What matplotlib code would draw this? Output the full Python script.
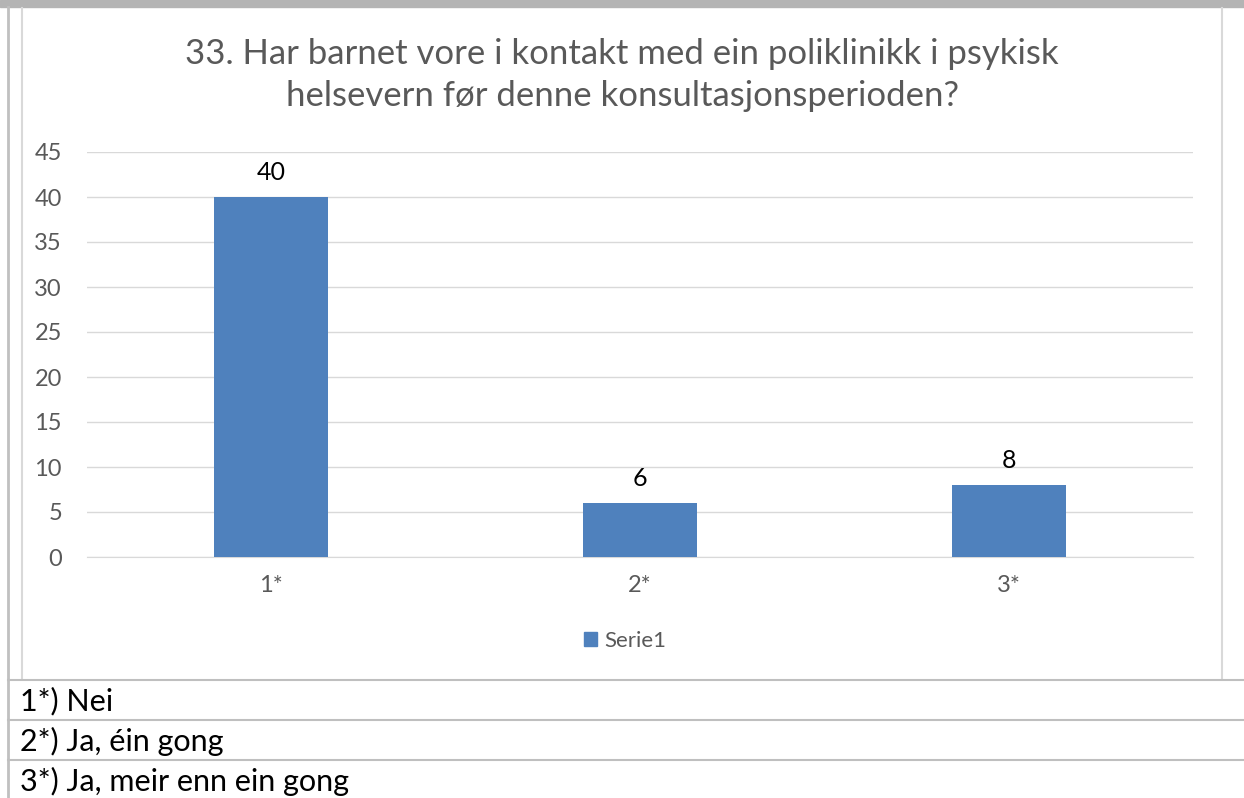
import matplotlib.pyplot as plt
from matplotlib.lines import Line2D
from matplotlib.patches import Rectangle

categories = ["1*", "2*", "3*"]
values = [40, 6, 8]
series_name = "Serie1"
title = "33. Har barnet vore i kontakt med ein poliklinikk i psykisk\nhelsevern før denne konsultasjonsperioden?"
notes = ["1*) Nei", "2*) Ja, éin gong", "3*) Ja, meir enn ein gong"]

W, H = 1244, 798
plt.rcParams['font.family'] = ['Lato', 'DejaVu Sans']

fig = plt.figure(figsize=(W / 100, H / 100), dpi=100)

def px(x, y):
    return x / W, 1 - y / H

# top gray band and frame lines
fig.patches.append(Rectangle((0, 1 - 7 / H), 1, 7 / H, transform=fig.transFigure,
                             color='#b4b4b4', zorder=0))
fig.lines.append(Line2D([8 / W, 8 / W], [0, 1 - 7 / H], transform=fig.transFigure,
                        color='#c0c0c0', lw=2))
for x in (22, 1222):
    fig.lines.append(Line2D([x / W, x / W], [1 - 679 / H, 1 - 8 / H],
                            transform=fig.transFigure, color='#d9d9d9', lw=1.5))
for y in (680, 720, 760):
    fig.lines.append(Line2D([8 / W, 1], [1 - y / H, 1 - y / H],
                            transform=fig.transFigure, color='#bfbfbf', lw=1.5))

for i, note in enumerate(notes):
    fig.text(20 / W, 1 - (701 + 40 * i) / H, note, fontsize=22, color='black',
             va='center', ha='left')

ax = fig.add_axes([87 / W, 1 - 557 / H, (1193 - 87) / W, (557 - 152) / H])
x = range(len(categories))
bars = ax.bar(x, values, width=0.31, color='#4f81bd', label=series_name, zorder=3)
ax.set_xlim(-0.5, len(categories) - 0.5)
ax.set_ylim(0, 45)
ax.set_yticks(range(0, 46, 5))
ax.set_xticks(list(x))
ax.set_xticklabels(categories)
ax.grid(axis='y', color='#d9d9d9', lw=1, zorder=0)
for s in ('top', 'left', 'right'):
    ax.spines[s].set_visible(False)
ax.spines['bottom'].set_color('#d9d9d9')
ax.tick_params(axis='both', length=0, labelsize=17, colors='#595959')
ax.tick_params(axis='y', pad=18)
ax.tick_params(axis='x', pad=13)

for b, v in zip(bars, values):
    ax.annotate(str(v), (b.get_x() + b.get_width() / 2, v), xytext=(0, 9),
                textcoords='offset points', ha='center', va='bottom',
                fontsize=18, color='black')

fig.text(622 / W, 1 - 75 / H, title, fontsize=25, color='#595959',
         ha='center', va='center', linespacing=1.35)

fig.legend(handles=[Rectangle((0, 0), 1, 1, color='#4f81bd')], labels=[series_name],
           loc='center', bbox_to_anchor=px(625, 641), frameon=False, fontsize=16,
           handlelength=0.6, handleheight=0.6, handletextpad=0.3,
           labelcolor='#595959')

fig.savefig('out.png', dpi=100)
